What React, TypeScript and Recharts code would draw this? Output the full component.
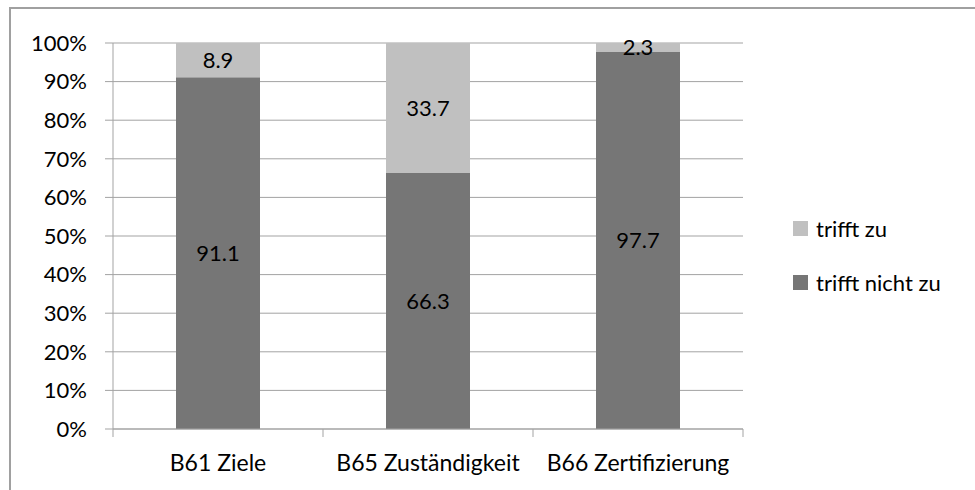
import React from "react";
import { BarChart, Bar, XAxis, YAxis, CartesianGrid, Legend, LabelList } from "recharts";

const categories = ["B61 Ziele", "B65 Zuständigkeit", "B66 Zertifizierung"];
const triffNichtZu = [91.1, 66.3, 97.7];
const triffZu = [8.9, 33.7, 2.3];
const yTicks = [0, 10, 20, 30, 40, 50, 60, 70, 80, 90, 100];
const seriesNames = { zu: "trifft zu", nicht: "trifft nicht zu" };

const data = categories.map((c, i) => ({ name: c, nicht: triffNichtZu[i], zu: triffZu[i] }));

const FONT = "Lato, 'Open Sans', sans-serif";
const DARK = "#767676";
const LIGHT = "#c0c0c0";
const GRID = "#a3a3a3";
const TICK_MARGIN = 26;
const TICK_LEN = 8;

const CategoryTick = (props: any) => {
  const { x, y, payload, index } = props;
  const half = payload && typeof payload.offset === "number" ? payload.offset : 0;
  const axisY = y - TICK_MARGIN;
  const isLast = index === categories.length - 1;
  return (
    <g>
      <line x1={x - half} x2={x - half} y1={axisY} y2={axisY + TICK_LEN} stroke={GRID} />
      {isLast && <line x1={x + half} x2={x + half} y1={axisY} y2={axisY + TICK_LEN} stroke={GRID} />}
      <text x={x} y={y} dy="0.71em" textAnchor="middle" fontFamily={FONT} fontSize={23} fill="#000">
        {payload.value}
      </text>
    </g>
  );
};

const LegendContent = () => {
  const items = [
    { name: seriesNames.zu, color: LIGHT },
    { name: seriesNames.nicht, color: DARK },
  ];
  return (
    <div style={{ fontFamily: FONT, fontSize: 22, color: "#000" }}>
      {items.map((it) => (
        <div key={it.name} style={{ display: "flex", alignItems: "center", height: 54 }}>
          <div style={{ width: 15, height: 15, background: it.color, marginRight: 8 }} />
          <span>{it.name}</span>
        </div>
      ))}
    </div>
  );
};

export default function App() {
  return (
    <div style={{ position: "absolute", left: 0, top: 0, width: 975, height: 490, overflow: "hidden", background: "#fff" }}>
      <div
        style={{
          position: "absolute",
          left: 9,
          top: 7,
          width: 1200,
          height: 1200,
          borderLeft: "2px solid #a0a0a0",
          borderTop: "2px solid #a0a0a0",
        }}
      />
      <div style={{ position: "absolute", left: 0, top: 0 }}>
        <BarChart
          width={975}
          height={490}
          data={data}
          margin={{ top: 43, right: 232, bottom: 31, left: 0 }}
          barCategoryGap="30%"
        >
          <CartesianGrid vertical={false} stroke={GRID} strokeWidth={1} />
          <XAxis
            dataKey="name"
            type="category"
            height={30}
            interval={0}
            axisLine={{ stroke: GRID }}
            tickLine={false}
            tickSize={0}
            tickMargin={TICK_MARGIN}
            tick={<CategoryTick />}
          />
          <YAxis
            domain={[0, 100]}
            ticks={yTicks}
            interval={0}
            tickFormatter={(v) => `${v}%`}
            width={113}
            axisLine={{ stroke: GRID }}
            tickLine={{ stroke: GRID }}
            tickSize={8}
            tickMargin={18}
            tick={{ fontFamily: FONT, fontSize: 22, fill: "#000" }}
          />
          <Legend
            layout="horizontal"
            align="center"
            verticalAlign="middle"
            content={<LegendContent />}
            wrapperStyle={{ position: "absolute", left: 793, top: 201, width: 180 }}
          />
          <Bar dataKey="nicht" name={seriesNames.nicht} stackId="a" fill={DARK} isAnimationActive={false}>
            <LabelList dataKey="nicht" position="center" style={{ fontFamily: FONT, fontSize: 22, fill: "#000" }} />
          </Bar>
          <Bar dataKey="zu" name={seriesNames.zu} stackId="a" fill={LIGHT} isAnimationActive={false}>
            <LabelList dataKey="zu" position="center" style={{ fontFamily: FONT, fontSize: 22, fill: "#000" }} />
          </Bar>
        </BarChart>
      </div>
    </div>
  );
}
